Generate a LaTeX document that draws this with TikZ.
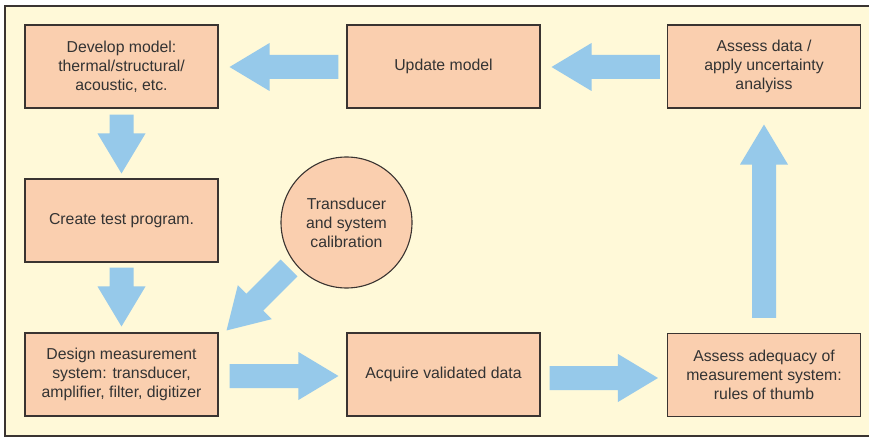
\documentclass[tikz,border=0pt]{standalone}
\usepackage{fontspec}
\setmainfont{Liberation Sans}
\usetikzlibrary{calc}
\definecolor{bgyellow}{HTML}{FFF9D8}
\definecolor{boxfill}{HTML}{FACFAF}
\definecolor{arrowblue}{HTML}{96C9EA}
\definecolor{edgecol}{HTML}{3A3431}
\definecolor{textcol}{HTML}{333333}
\newcommand{\blockarrow}[2]{%
  \coordinate (ba0) at (#1);
  \coordinate (ba1) at (#2);
  \coordinate (bah) at ($(ba1)!40pt!(ba0)$);
  \fill[arrowblue] ($(ba0)!12pt!90:(ba1)$) -- ($(bah)!12pt!90:(ba1)$) -- ($(bah)!24pt!90:(ba1)$) -- (ba1) -- ($(bah)!24pt!-90:(ba1)$) -- ($(bah)!12pt!-90:(ba1)$) -- ($(ba0)!12pt!-90:(ba1)$) -- cycle;
}
\begin{document}
\begin{tikzpicture}[x=1pt,y=-1pt,
  box/.style={draw=edgecol, line width=1.1pt, fill=boxfill, minimum width=193pt, minimum height=83pt, inner sep=2pt, align=center, text=textcol, font=\fontsize{15.8}{19}\selectfont},
  roundbox/.style={circle, draw=edgecol, line width=1.1pt, fill=boxfill, minimum size=131pt, inner sep=0pt, align=center, text=textcol, font=\fontsize{15.8}{19}\selectfont}]
\useasboundingbox (0,0) rectangle (869,438);
\fill[bgyellow] (5,6) rectangle (869,436);
\draw[edgecol, line width=1.2pt] (869,6) -- (5,6) -- (5,436) -- (869,436);

\node[box] (develop) at (121.5,66.5) {Develop model:\\thermal/structural/\\acoustic, etc.};
\node[box] (update) at (443.5,66.5) {Update model};
\node[box] (assessdata) at (764,66.5) {Assess data /\\apply uncertainty\\analyiss};
\node[box] (create) at (121.5,220.5) {Create test program.};
\node[box] (design) at (121.5,374.5) {Design measurement\\system: transducer,\\amplifier, filter, digitizer};
\node[box] (acquire) at (443.5,374.5) {Acquire validated data};
\node[box] (adequacy) at (764,375) {Assess adequacy of\\measurement system:\\rules of thumb};
\node[roundbox] (calib) at (346.5,222.5) {Transducer\\and system\\calibration};

\blockarrow{$(update.west)+(-8,0.5)$}{$(develop.east)+(11,0.5)$}
\blockarrow{$(assessdata.west)+(-7,0.5)$}{$(update.east)+(11,0.5)$}
\blockarrow{$(develop.south)+(0,6)$}{$(create.north)+(0,-5)$}
\blockarrow{$(create.south)+(0,5)$}{$(design.north)+(0,-6)$}
\blockarrow{$(design.east)+(11,1.5)$}{$(acquire.west)+(-8,1.5)$}
\blockarrow{$(acquire.east)+(9,3.5)$}{$(adequacy.west)+(-9,3)$}
\blockarrow{$(adequacy.north)+(0,-15)$}{$(assessdata.south)+(0,16)$}
\blockarrow{$(calib.center)+(-57.5,45.5)$}{$(design.north east)+(8,-2)$}
\end{tikzpicture}
\end{document}
